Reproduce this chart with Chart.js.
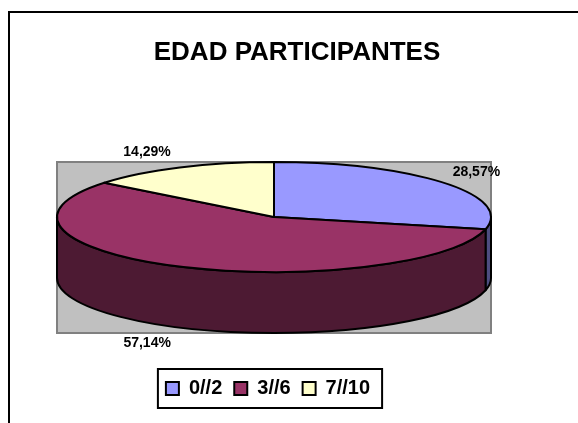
<!DOCTYPE html>
<html>
<head>
<meta charset="utf-8">
<script src="https://cdn.jsdelivr.net/npm/chart.js@4.4.1/dist/chart.umd.min.js"></script>
<style>
  html, body { margin: 0; padding: 0; background: #ffffff; }
  #wrap { width: 578px; height: 423px; position: relative; }
</style>
</head>
<body>
<div id="wrap"><canvas id="chart" width="578" height="423"></canvas></div>
<script>
// Age groups of the participants and their share (%)
const categories = ['0//2', '3//6', '7//10'];
const shares = [28.57, 57.14, 14.29];

const FONT = "'Liberation Sans', Arial, Helvetica, sans-serif";

// Percent text in Spanish notation (decimal comma)
function formatShare(v) {
  return v.toFixed(2).replace('.', ',') + '%';
}

function darken(hex, f) {
  const n = parseInt(hex.slice(1), 16);
  const r = Math.round(((n >> 16) & 255) * f);
  const g = Math.round(((n >> 8) & 255) * f);
  const b = Math.round((n & 255) * f);
  return 'rgb(' + r + ',' + g + ',' + b + ')';
}

// Draws the pie as a tilted disc inside a grey plot area, Excel style,
// using the angles computed by the pie controller.
const tiltedPie = {
  id: 'tiltedPie',
  beforeDraw(chart) {
    const ctx = chart.ctx;
    ctx.save();
    // outer chart frame
    ctx.strokeStyle = '#000000';
    ctx.lineWidth = 2;
    ctx.strokeRect(9, 12, 800, 800);
    ctx.restore();
  },
  afterLayout(chart) {
    const o = chart.options.plugins.tiltedPie;
    const t = chart.titleBlock;
    t.left += o.titleShift; t.right += o.titleShift;
    const lg = chart.legend;
    const dy = o.legendTop - lg.top;
    lg.top += dy; lg.bottom += dy;
    lg.left += o.legendShift; lg.right += o.legendShift;
  },
  beforeDatasetsDraw(chart) {
    const ctx = chart.ctx;
    const o = chart.options.plugins.tiltedPie;
    const area = chart.chartArea;
    const meta = chart.getDatasetMeta(0);
    const ds = chart.data.datasets[0];

    // grey plot area
    ctx.save();
    ctx.fillStyle = '#C0C0C0';
    ctx.fillRect(area.left, area.top, area.right - area.left, area.bottom - area.top);
    ctx.strokeStyle = '#808080';
    ctx.lineWidth = 2;
    ctx.strokeRect(area.left, area.top, area.right - area.left, area.bottom - area.top);

    const cx = (area.left + area.right) / 2;
    const rx = (area.right - area.left) / 2;
    const ry = rx * o.tilt;
    const cy = area.top + ry;
    const depth = (area.bottom - area.top) - 2 * ry;

    ctx.lineWidth = 2;
    ctx.strokeStyle = '#000000';
    ctx.lineJoin = 'round';

    // side walls (front half only)
    meta.data.forEach((arc, i) => {
      const a0 = arc.startAngle, a1 = arc.endAngle;
      [-2 * Math.PI, 0, 2 * Math.PI].forEach(base => {
        const s = Math.max(a0, base), e = Math.min(a1, base + Math.PI);
        if (e <= s) return;
        ctx.beginPath();
        ctx.ellipse(cx, cy, rx, ry, 0, s, e);
        ctx.lineTo(cx + rx * Math.cos(e), cy + depth + ry * Math.sin(e));
        ctx.ellipse(cx, cy + depth, rx, ry, 0, e, s, true);
        ctx.closePath();
        ctx.fillStyle = darken(ds.backgroundColor[i], 0.5);
        ctx.fill();
        ctx.stroke();
      });
    });

    // top faces
    meta.data.forEach((arc, i) => {
      ctx.beginPath();
      ctx.moveTo(cx, cy);
      ctx.ellipse(cx, cy, rx, ry, 0, arc.startAngle, arc.endAngle);
      ctx.closePath();
      ctx.fillStyle = ds.backgroundColor[i];
      ctx.fill();
      ctx.stroke();
    });

    // percentage labels outside the disc
    ctx.font = 'bold ' + o.labelSize + 'px ' + FONT;
    ctx.fillStyle = '#000000';
    ctx.textBaseline = 'middle';
    ctx.textAlign = 'center';
    meta.data.forEach((arc, i) => {
      const mid = (arc.startAngle + arc.endAngle) / 2;
      const c = Math.cos(mid), s = Math.sin(mid);
      const ax = cx + rx * c;
      const ay = cy + ry * s + (s > 0 ? depth : 0);
      const text = formatShare(ds.data[i]);
      const w = ctx.measureText(text).width;
      const x = ax + Math.sign(c) * (w / 2 + 9);
      const y = ay + 17 * s;
      ctx.fillText(text, x, y);
    });
    ctx.restore();
    return false;
  },
  afterDraw(chart) {
    // frame around the legend
    const hb = chart.legend.legendHitBoxes;
    if (!hb || !hb.length) return;
    const first = hb[0], last = hb[hb.length - 1];
    const ctx = chart.ctx;
    ctx.save();
    ctx.strokeStyle = '#000000';
    ctx.lineWidth = 2;
    const left = first.left - 8;
    const right = last.left + last.width + 12;
    const top = first.top - 9.5;
    const bottom = first.top + first.height + 9.5;
    ctx.strokeRect(left, top, right - left, bottom - top);
    ctx.restore();
  }
};

new Chart(document.getElementById('chart'), {
  type: 'pie',
  data: {
    labels: categories,
    datasets: [{
      data: shares,
      backgroundColor: ['#9999FF', '#993366', '#FFFFCC'],
      borderColor: '#000000',
      borderWidth: 2
    }]
  },
  options: {
    responsive: false,
    animation: false,
    events: [],
    layout: { padding: { left: 57, right: 87, top: 20, bottom: 48 } },
    plugins: {
      tiltedPie: { tilt: 0.2535, labelSize: 14, titleShift: 23, legendShift: -6, legendTop: 366.5 },
      title: {
        display: true,
        text: 'EDAD PARTICIPANTES',
        color: '#000000',
        font: { family: FONT, size: 26, weight: 'bold' },
        padding: { top: 17, bottom: 93.8 }
      },
      legend: {
        position: 'bottom',
        labels: {
          color: '#000000',
          boxWidth: 13,
          boxHeight: 13,
          padding: 12,
          font: { family: FONT, size: 20, weight: 'bold' }
        }
      },
      tooltip: { enabled: false }
    }
  },
  plugins: [tiltedPie]
});
</script>
</body>
</html>
